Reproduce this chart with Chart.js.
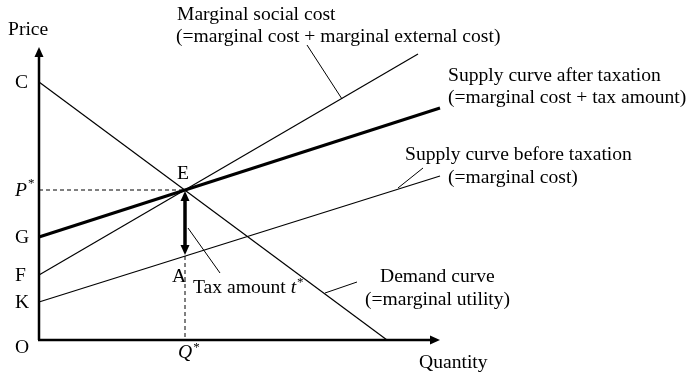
<!DOCTYPE html>
<html>
<head>
<meta charset="utf-8">
<script src="https://cdn.jsdelivr.net/npm/chart.js@4"></script>
<style>
  html, body { margin: 0; padding: 0; background: #fff; }
  #wrap { width: 687px; height: 376px; }
</style>
</head>
<body>
<div id="wrap"><canvas id="taxChart" width="687" height="376"></canvas></div>
<script>
// Price levels marked on the vertical axis
var priceTicks = ['O', 'K', 'F', 'G', 'P*', 'C'];
var priceValues = [0, 38, 65, 103, 150, 258];

// Equilibrium after tax
var qStar = 146;
var pStar = 150;
var pA = 84;   // price on the pre-tax supply curve at Q*

// Curves (quantity, price)
var demand = [{ x: 0, y: 258 }, { x: 348, y: 0 }];
var supplyBefore = [{ x: 0, y: 38 }, { x: 401, y: 164 }];
var supplyAfter = [{ x: 0, y: 103 }, { x: 401, y: 232 }];
var socialCost = [{ x: 0, y: 65 }, { x: 379, y: 286 }];

// Leader lines from the captions to their curves
var leaderSocial = [{ x: 268, y: 295 }, { x: 303, y: 241 }];
var leaderBefore = [{ x: 384, y: 172 }, { x: 359, y: 152 }];
var leaderDemand = [{ x: 318, y: 58 }, { x: 286, y: 47 }];
var leaderTax = [{ x: 149, y: 112 }, { x: 181, y: 67 }];

var FONT = '"Liberation Serif", "Times New Roman", serif';
var SIZE = 19.6;

function line(data, width, dash) {
    return {
        data: data,
        showLine: true,
        borderColor: '#000',
        borderWidth: width,
        borderDash: dash || [],
        pointRadius: 0,
        fill: false,
        clip: false
    };
}

function drawRich(ctx, parts, x, y) {
    parts.forEach(function (p) {
        var size = p.sup ? 13 : SIZE;
        ctx.font = (p.italic ? 'italic ' : '') + size + 'px ' + FONT;
        ctx.fillText(p.t, x, p.sup ? y - 7 : y);
        x += ctx.measureText(p.t).width + (p.italic ? 1 : 0);
    });
}

function arrowHead(ctx, x, y, dx, dy, len, half) {
    ctx.beginPath();
    ctx.moveTo(x, y);
    ctx.lineTo(x - dx * len - dy * half, y - dy * len + dx * half);
    ctx.lineTo(x - dx * len + dy * half, y - dy * len - dx * half);
    ctx.closePath();
    ctx.fill();
}

// Captions, anchored in data units (left edge, baseline)
var captions = [
    { x: -31, y: 305, parts: [{ t: 'Price' }] },
    { x: 138, y: 320, parts: [{ t: 'Marginal social cost' }] },
    { x: 137, y: 298, parts: [{ t: '(=marginal cost + marginal external cost)' }] },
    { x: 409, y: 259, parts: [{ t: 'Supply curve after taxation' }] },
    { x: 409, y: 237, parts: [{ t: '(=marginal cost + tax amount)' }] },
    { x: 366, y: 180, parts: [{ t: 'Supply curve before taxation' }] },
    { x: 409, y: 157, parts: [{ t: '(=marginal cost)' }] },
    { x: 341, y: 58, parts: [{ t: 'Demand curve' }] },
    { x: 326, y: 35, parts: [{ t: '(=marginal utility)' }] },
    { x: 380, y: -28, parts: [{ t: 'Quantity' }] },
    { x: 138, y: 161, parts: [{ t: 'E' }] },
    { x: 133, y: 58, parts: [{ t: 'A' }] },
    { x: 154, y: 47, parts: [{ t: 'Tax amount ' }, { t: 't', italic: true }, { t: '*', sup: true }] },
    { x: 139, y: -18, parts: [{ t: 'Q', italic: true }, { t: '*', sup: true }] }
];

var diagramPlugin = {
    id: 'diagram',
    afterDatasetsDraw: function (chart) {
        var ctx = chart.ctx;
        var xs = chart.scales.x, ys = chart.scales.y;
        var area = chart.chartArea;
        var x0 = xs.getPixelForValue(0), y0 = ys.getPixelForValue(0);
        ctx.save();
        ctx.fillStyle = '#000';
        ctx.strokeStyle = '#000';

        // axes with arrow tips
        ctx.lineWidth = 2.5;
        ctx.beginPath();
        ctx.moveTo(x0, y0);
        ctx.lineTo(x0, area.top + 8);
        ctx.moveTo(x0 - 1, y0);
        ctx.lineTo(area.right - 8, y0);
        ctx.stroke();
        arrowHead(ctx, x0, area.top, 0, -1, 10, 4.5);
        arrowHead(ctx, area.right, y0, 1, 0, 10, 4.5);

        // tax amount: double-headed arrow from E down to A
        var qx = xs.getPixelForValue(qStar);
        var ey = ys.getPixelForValue(pStar) + 1;
        var ay = ys.getPixelForValue(pA) - 1;
        ctx.lineWidth = 3.5;
        ctx.beginPath();
        ctx.moveTo(qx, ey + 8);
        ctx.lineTo(qx, ay - 8);
        ctx.stroke();
        arrowHead(ctx, qx, ey, 0, -1, 10, 4.5);
        arrowHead(ctx, qx, ay, 0, 1, 10, 4.5);

        // price levels on the vertical axis
        ctx.textAlign = 'left';
        ctx.textBaseline = 'middle';
        priceTicks.forEach(function (label, i) {
            var v = priceValues[i];
            var py = ys.getPixelForValue(v) + (v === 0 ? 8 : 1);
            var parts = label === 'P*'
                ? [{ t: 'P', italic: true }, { t: '*', sup: true }]
                : [{ t: label }];
            drawRich(ctx, parts, x0 - 24, py);
        });

        ctx.textBaseline = 'alphabetic';
        captions.forEach(function (c) {
            drawRich(ctx, c.parts, xs.getPixelForValue(c.x), ys.getPixelForValue(c.y));
        });
        ctx.restore();
    }
};

var ctx = document.getElementById('taxChart').getContext('2d');

var chart = new Chart(ctx, {
    type: 'scatter',
    data: {
        datasets: [
            line(demand, 1.2),
            line(supplyBefore, 1.2),
            line(supplyAfter, 3),
            line(socialCost, 1.2),
            line([{ x: 0, y: pStar }, { x: qStar, y: pStar }], 1, [4, 3]),
            line([{ x: qStar, y: pA }, { x: qStar, y: 0 }], 1, [4, 3]),
            line(leaderSocial, 1),
            line(leaderBefore, 1),
            line(leaderDemand, 1),
            line(leaderTax, 1)
        ]
    },
    options: {
        responsive: false,
        devicePixelRatio: 1,
        animation: false,
        layout: { padding: { left: 39, right: 247, top: 47, bottom: 36 } },
        scales: {
            x: { type: 'linear', min: 0, max: 401, display: false },
            y: { type: 'linear', min: 0, max: 293, display: false }
        },
        plugins: {
            legend: { display: false },
            tooltip: { enabled: false }
        }
    },
    plugins: [diagramPlugin]
});
</script>
</body>
</html>
